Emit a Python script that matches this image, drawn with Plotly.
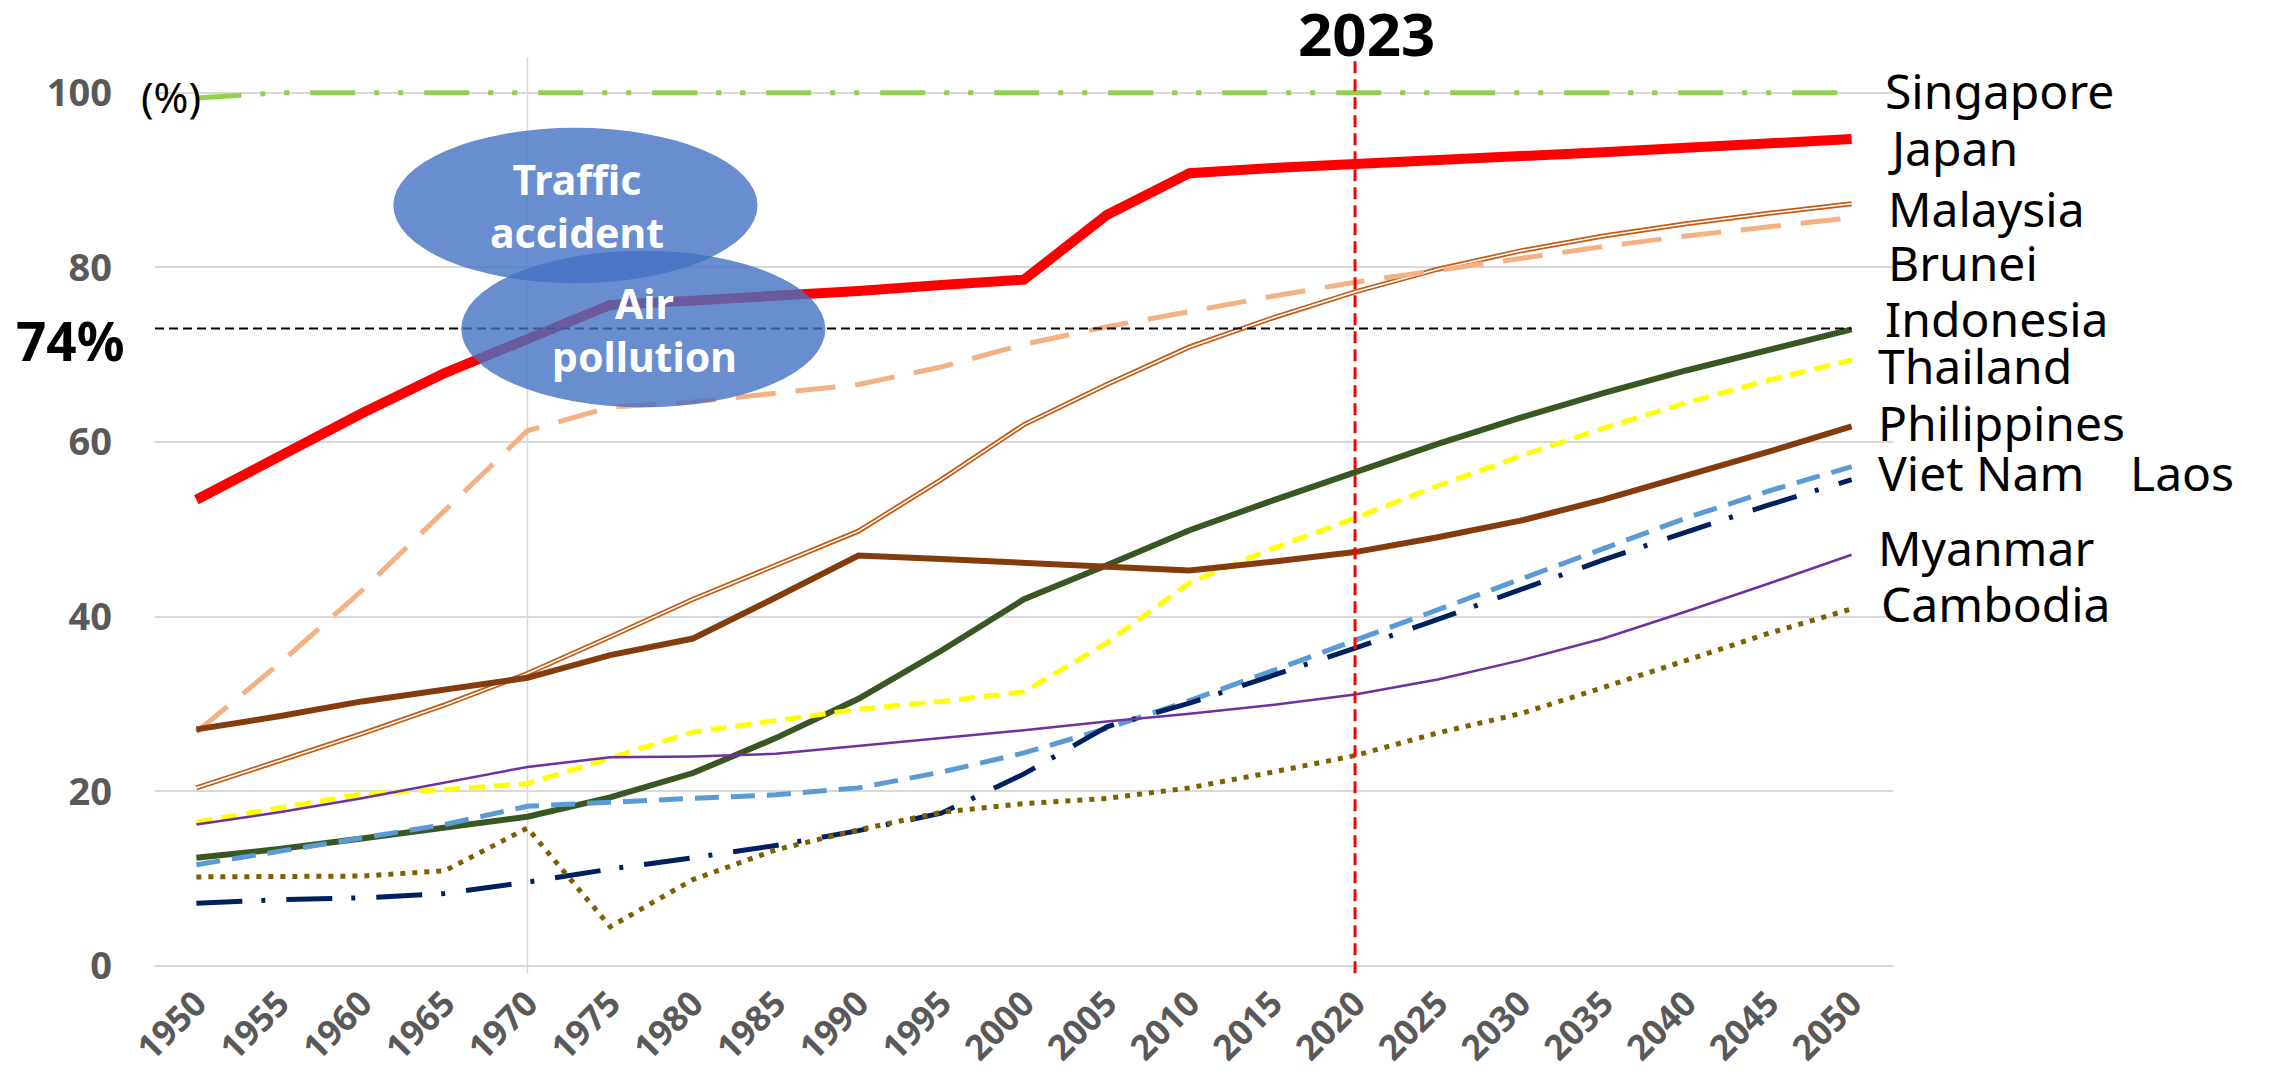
import plotly.graph_objects as go

# Urban population share (%), 1950-2050
years = [1950, 1955, 1960, 1965, 1970, 1975, 1980, 1985, 1990, 1995, 2000,
         2005, 2010, 2015, 2020, 2025, 2030, 2035, 2040, 2045, 2050]

singapore = [99.4, 100, 100, 100, 100, 100, 100, 100, 100, 100, 100,
             100, 100, 100, 100, 100, 100, 100, 100, 100, 100]
japan = [53.4, 58.4, 63.3, 67.9, 71.9, 75.7, 76.2, 76.7, 77.3, 78.0, 78.6,
         86.0, 90.8, 91.4, 91.8, 92.3, 92.7, 93.2, 93.7, 94.2, 94.7]
malaysia = [20.4, 23.5, 26.6, 29.9, 33.5, 37.7, 42.0, 45.9, 49.8, 55.7, 62.0,
            66.6, 70.9, 74.2, 77.2, 79.8, 81.9, 83.6, 85.0, 86.2, 87.3]
brunei = [26.8, 34.6, 43.0, 52.2, 61.3, 64.0, 64.6, 65.6, 66.6, 68.6, 71.2,
          73.2, 75.0, 76.7, 78.3, 79.7, 81.1, 82.4, 83.6, 84.7, 85.7]
indonesia = [12.4, 13.4, 14.6, 15.8, 17.1, 19.3, 22.1, 26.1, 30.6, 36.1, 42.0,
             45.9, 49.9, 53.3, 56.6, 59.8, 62.8, 65.6, 68.2, 70.6, 72.9]
thailand = [16.5, 18.1, 19.7, 20.2, 20.9, 23.8, 26.8, 28.1, 29.4, 30.3, 31.4,
            37.0, 43.9, 47.8, 51.3, 55.0, 58.4, 61.6, 64.5, 67.1, 69.4]
philippines = [27.1, 28.6, 30.3, 31.6, 33.0, 35.6, 37.5, 42.2, 47.0, 46.6, 46.2,
               45.7, 45.3, 46.3, 47.4, 49.1, 51.0, 53.4, 56.1, 58.9, 61.8]
vietnam = [11.6, 13.1, 14.6, 16.2, 18.3, 18.8, 19.2, 19.6, 20.4, 22.2, 24.4,
           27.2, 30.4, 33.8, 37.3, 40.9, 44.4, 47.9, 51.3, 54.4, 57.2]
laos = [7.2, 7.6, 7.8, 8.3, 9.6, 11.1, 12.4, 13.8, 15.5, 17.5, 22.0,
        27.4, 30.1, 33.2, 36.4, 39.7, 43.1, 46.5, 49.7, 52.8, 55.7]
myanmar = [16.2, 17.6, 19.2, 21.0, 22.8, 23.9, 24.0, 24.3, 25.2, 26.1, 27.0,
           28.0, 28.9, 29.9, 31.1, 32.8, 35.0, 37.5, 40.6, 43.8, 47.1]
cambodia = [10.2, 10.3, 10.3, 10.9, 15.8, 4.5, 9.9, 13.3, 15.6, 17.6, 18.6,
            19.2, 20.4, 22.2, 24.1, 26.7, 28.9, 31.9, 35.0, 38.1, 40.9]

y_ticks = [0, 20, 40, 60, 80, 100]
marker_year = 2020
marker_label = "2023"
ref_level = 73
ref_label = "74%"

FONT = "Noto Sans, Meiryo, Arial, sans-serif"
GRID = "#D9D9D9"
TICK = "#595959"

fig = go.Figure()

# (name, values, colour, width, dash)
series = [
    ("Singapore", singapore, "#92D050", 5, "45px,19px,5px,19px,5px,21px"),
    ("Japan", japan, "#FF0000", 10, "solid"),
    ("Malaysia", malaysia, "#C55A11", 5, "solid"),
    ("Brunei", brunei, "#F4B183", 5, "40px,20px"),
    ("Indonesia", indonesia, "#385723", 6, "solid"),
    ("Thailand", thailand, "#FFFF00", 5, "16px,9px"),
    ("Philippines", philippines, "#843C0C", 6, "solid"),
    ("Viet Nam", vietnam, "#5B9BD5", 5, "24px,12px"),
    ("Laos", laos, "#002060", 5, "46px,19px,4px,21px"),
    ("Myanmar", myanmar, "#7030A0", 2.5, "solid"),
    ("Cambodia", cambodia, "#7F6000", 5, "5px,7px"),
]

for name, vals, color, width, dash in series:
    fig.add_trace(go.Scatter(
        x=years, y=vals, mode='lines', name=name,
        line=dict(color=color, width=width, dash=dash),
        showlegend=False, hoverinfo='skip'
    ))
    if name == "Malaysia":
        # double line effect
        fig.add_trace(go.Scatter(
            x=years, y=vals, mode='lines', line=dict(color='white', width=1.6),
            showlegend=False, hoverinfo='skip'
        ))

# right-hand series labels: (text, x in paper, y)
labels = [
    ("Singapore", 0.994, 100.3),
    ("Japan", 0.996, 93.7),
    ("Malaysia", 0.996, 86.8),
    ("Brunei", 0.996, 80.6),
    ("Indonesia", 0.994, 74.2),
    ("Thailand", 0.990, 68.8),
    ("Philippines", 0.990, 62.3),
    ("Viet Nam", 0.990, 56.5),
    ("Laos", 1.135, 56.5),
    ("Myanmar", 0.990, 47.9),
    ("Cambodia", 0.992, 41.5),
]
annotations = []
for text, x, y in labels:
    annotations.append(dict(x=x, y=y, xref='paper', yref='y', text=text,
                            showarrow=False, xanchor='left', yanchor='middle',
                            font=dict(family=FONT, size=48, color='black')))

annotations += [
    dict(x=0.009, y=99.6, xref='paper', yref='y', text="(%)", showarrow=False,
         xanchor='center', font=dict(family=FONT, size=42, color='black')),
    dict(x=-0.049, y=71.6, xref='paper', yref='y', text=f"<b>{ref_label}</b>",
         showarrow=False, xanchor='center', font=dict(family=FONT, size=53, color='black')),
    dict(x=0.697, y=1.026, xref='paper', yref='paper', text=f"<b>{marker_label}</b>",
         showarrow=False, xanchor='center', yanchor='middle',
         font=dict(family=FONT, size=60, color='black')),
    dict(x=1973.0, y=87.1, xref='x', yref='y', text="<b>Traffic<br>accident</b>",
         showarrow=False, font=dict(family=FONT, size=41, color='white')),
    dict(x=1977.1, y=72.9, xref='x', yref='y', text="<b>Air<br>pollution</b>",
         showarrow=False, font=dict(family=FONT, size=41, color='white')),
]

shapes = [
    dict(type='line', xref='x', yref='paper', x0=1970, x1=1970, y0=-0.008, y1=1,
         line=dict(color=GRID, width=1.5), layer='below'),
    dict(type='line', xref='x', yref='y', x0=1947.5, x1=2050, y0=ref_level, y1=ref_level,
         line=dict(color='black', width=2, dash='9px,5px')),
    dict(type='line', xref='x', yref='paper', x0=marker_year, x1=marker_year, y0=-0.008, y1=1,
         line=dict(color='#FF0000', width=3, dash='12px,6px')),
    dict(type='circle', xref='x', yref='y', x0=1961.9, x1=1983.9, y0=78.2, y1=96.0,
         fillcolor='rgba(68,114,196,0.8)', line=dict(width=0)),
    dict(type='circle', xref='x', yref='y', x0=1966.0, x1=1988.0, y0=64.0, y1=81.9,
         fillcolor='rgba(68,114,196,0.8)', line=dict(width=0)),
]

# page body has an 8px margin, so the figure is sized/positioned to compensate
fig.update_layout(
    width=2269, height=1070,
    margin=dict(l=147, r=384, t=49, b=112),
    plot_bgcolor='white', paper_bgcolor='white',
    annotations=annotations, shapes=shapes,
    xaxis=dict(range=[1947.5, 2052.5], tickvals=years, tickangle=-45,
               showgrid=False, zeroline=False, showline=False, automargin=False,
               tickfont=dict(family=FONT, size=35, color=TICK, weight='bold'),
               ticklabelstandoff=9),
    yaxis=dict(range=[0, 104.1], tickvals=y_ticks, showgrid=True,
               gridcolor=GRID, gridwidth=1.5, zeroline=True, automargin=False,
               zerolinecolor=GRID, zerolinewidth=1.5, showline=False,
               tickfont=dict(family=FONT, size=38, color=TICK, weight='bold'),
               ticklabelstandoff=42),
)

fig.write_html("out.html")
